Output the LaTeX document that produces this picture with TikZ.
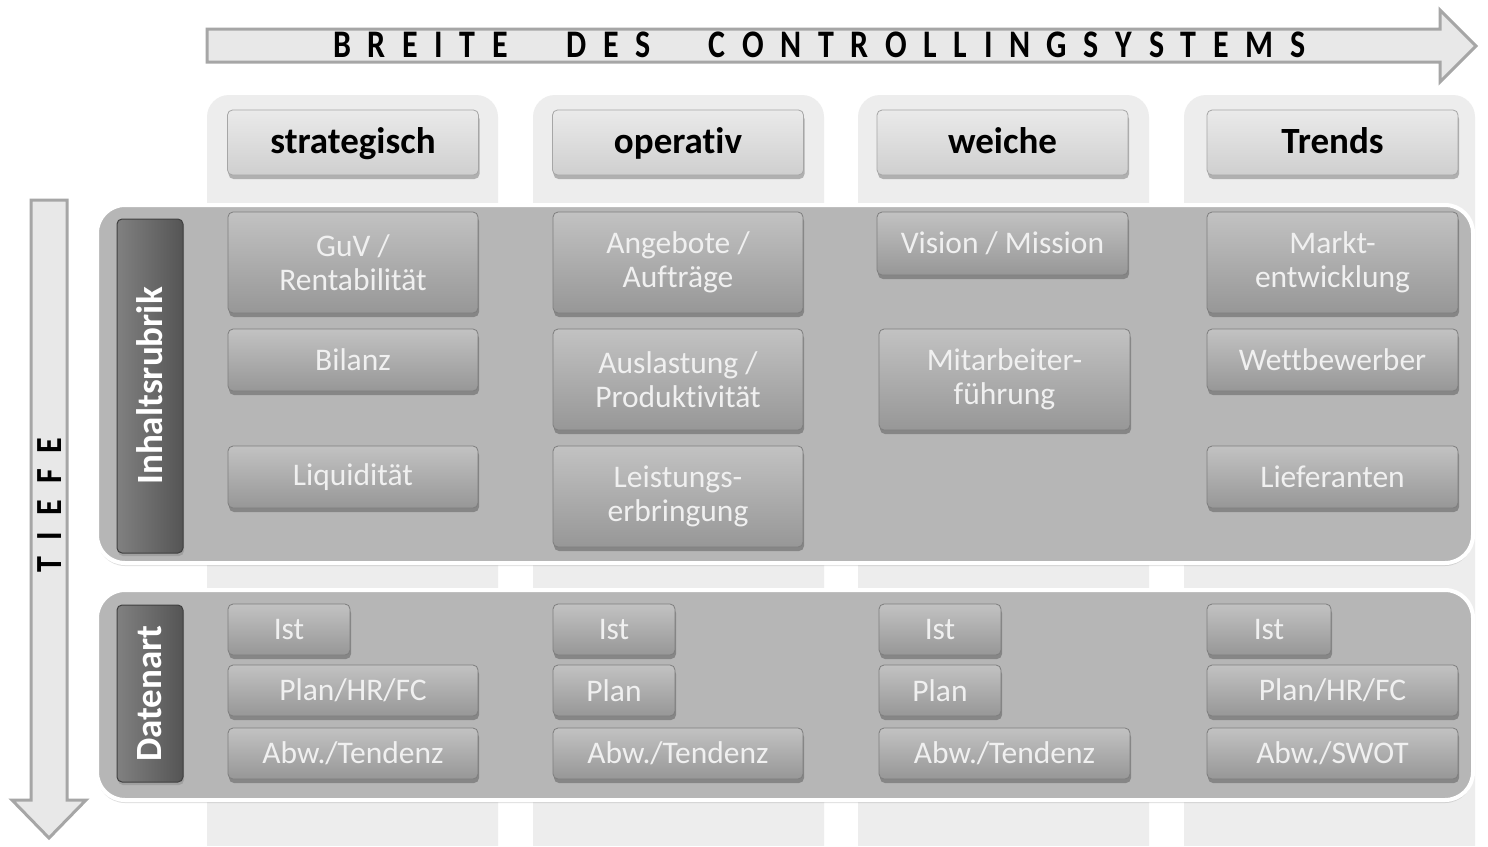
\documentclass[tikz,border=0pt]{standalone}
\usepackage{fontspec}
\setmainfont{Carlito}[Ligatures=NoCommon]
\usetikzlibrary{shadows}
\definecolor{colbg}{HTML}{EDEDED}
\definecolor{panelc}{HTML}{B6B6B6}
\definecolor{boxtop}{HTML}{C2C2C2}
\definecolor{boxbot}{HTML}{979797}
\definecolor{boxline}{HTML}{7E7E7E}
\definecolor{hdrtop}{HTML}{EAEAEA}
\definecolor{hdrbot}{HTML}{CFCFCF}
\definecolor{barc}{HTML}{6A6A6A}
\definecolor{arrfill}{HTML}{E8E8E8}
\definecolor{arrline}{HTML}{A6A6A6}
\tikzset{
  cbox/.style={rounded corners=5pt, top color=boxtop, bottom color=boxbot, draw=boxline, line width=0.8pt,
    text=white!94!black, align=center, inner sep=0pt, font=\fontsize{31.5}{34}\selectfont,
    drop shadow={shadow xshift=1pt, shadow yshift=-4pt, opacity=0.45, fill=black!70}},
  hbox/.style={rounded corners=5pt, top color=hdrtop, bottom color=hdrbot, draw=arrline, line width=0.8pt,
    text=black, align=center, inner sep=0pt, font=\fontsize{37}{40}\selectfont\bfseries,
    text height=28pt, text depth=6pt,
    minimum width=251pt, minimum height=65pt,
    drop shadow={shadow xshift=1pt, shadow yshift=-4pt, opacity=0.45, fill=black!60}},
  barbox/.style={rounded corners=5pt, left color=barc!85!white, right color=barc!80!black, draw=barc!60!black, line width=1pt,
    text=white, inner sep=0pt, minimum width=66pt, font=\fontsize{37}{40}\selectfont\bfseries,
    drop shadow={shadow xshift=1pt, shadow yshift=-3pt, opacity=0.4}},
  panel/.style={rounded corners=28pt, fill=panelc, draw=white, line width=4pt,
    drop shadow={shadow xshift=0pt, shadow yshift=-3pt, opacity=0.25}},
  colbgs/.style={fill=colbg, rounded corners=22pt},
  bigarrow/.style={fill=arrfill, draw=arrline, line width=3pt, line join=miter},
}
\begin{document}
\begin{tikzpicture}[x=1pt,y=-1pt]
\useasboundingbox (0,0) rectangle (1488,846);
\fill[white] (0,0) rectangle (1488,846);

% column backgrounds
\foreach \l/\r in {207/498, 533/824, 858/1149, 1184/1475}{
  \path[colbgs] (\l,870) -- (\l,95) -- (\r,95) -- (\r,870);
}
\fill[white] (0,846) rectangle (1488,900);

% top arrow
\draw[bigarrow] (207,29) -- (1440,29) -- (1440,10) -- (1476,46) -- (1440,82) -- (1440,62) -- (207,62) -- cycle;
\node[anchor=west, inner sep=0pt, font=\fontsize{32}{36}\selectfont\bfseries] (breite) at (333,45)
  {\scalebox{1}[1.22]{\makebox[972pt][s]{B\hfil R\hfil E\hfil I\hfil T\hfil E\hskip 0pt plus 3.5fil D\hfil E\hfil S\hskip 0pt plus 3.5fil C\hfil O\hfil N\hfil T\hfil R\hfil O\hfil L\hfil L\hfil I\hfil N\hfil G\hfil S\hfil Y\hfil S\hfil T\hfil E\hfil M\hfil S}}};

% left arrow
\draw[bigarrow] (31,200) -- (67,200) -- (67,800) -- (86,800) -- (49,838) -- (12,800) -- (31,800) -- cycle;
\node[rotate=90, inner sep=0pt, font=\fontsize{32}{36}\selectfont\bfseries] (tiefe) at (50,505)
  {\scalebox{1}[1.15]{\makebox[135pt][s]{T\hfil I\hfil E\hfil F\hfil E}}};

% headers
\node[hbox] (h1) at (353,142.5) {strategisch};
\node[hbox] (h2) at (678,142.5) {operativ};
\node[hbox] (h3) at (1002.5,142.5) {weiche};
\node[hbox] (h4) at (1332.5,142.5) {Trends};

% panels
\path[panel] (97,205) rectangle (1473,563);
\path[panel] (97,590) rectangle (1473,800);

% side bars
\node[barbox, minimum height=334pt] (inh) at (150,386) {\rotatebox{90}{Inhaltsrubrik}};
\node[barbox, minimum height=177pt] (dat) at (150,693.5) {\rotatebox{90}{Datenart}};

% Inhaltsrubrik boxes
\node[cbox, minimum width=250pt, minimum height=101pt] (guv) at (353,262.5) {GuV /\\Rentabilität};
\node[cbox, minimum width=250pt, minimum height=62pt] (bil) at (353,360) {Bilanz};
\node[cbox, minimum width=250pt, minimum height=62pt] (liq) at (353,477) {Liquidität};

\node[cbox, minimum width=250pt, minimum height=101pt] (ang) at (678,262.5) {Angebote /\\Aufträge};
\node[cbox, minimum width=250pt, minimum height=101pt] (aus) at (678,379.5) {Auslastung /\\Produktivität};
\node[cbox, minimum width=250pt, minimum height=101pt] (lei) at (678,496.5) {Leistungs-\\erbringung};

\node[cbox, minimum width=251pt, minimum height=63pt] (vis) at (1002.5,243.5) {Vision / Mission};
\node[cbox, minimum width=251pt, minimum height=101pt] (mit) at (1004.5,379.5) {Mitarbeiter-\\führung};

\node[cbox, minimum width=251pt, minimum height=101pt] (mar) at (1332.5,262.5) {Markt-\\entwicklung};
\node[cbox, minimum width=251pt, minimum height=62pt] (wet) at (1332.5,360) {Wettbewerber};
\node[cbox, minimum width=251pt, minimum height=62pt] (lie) at (1332.5,477) {Lieferanten};

% Datenart boxes
\node[cbox, minimum width=122pt, minimum height=51pt] (ist1) at (289,629.5) {Ist};
\node[cbox, minimum width=250pt, minimum height=51pt] (pl1) at (353,690.5) {Plan/HR/FC};
\node[cbox, minimum width=250pt, minimum height=51pt] (ab1) at (353,753.5) {Abw./Tendenz};

\node[cbox, minimum width=122pt, minimum height=51pt] (ist2) at (614,629.5) {Ist};
\node[cbox, minimum width=122pt, minimum height=51pt] (pl2) at (614,690.5) {Plan};
\node[cbox, minimum width=250pt, minimum height=51pt] (ab2) at (678,753.5) {Abw./Tendenz};

\node[cbox, minimum width=122pt, minimum height=51pt] (ist3) at (940,629.5) {Ist};
\node[cbox, minimum width=122pt, minimum height=51pt] (pl3) at (940,690.5) {Plan};
\node[cbox, minimum width=251pt, minimum height=51pt] (ab3) at (1004.5,753.5) {Abw./Tendenz};

\node[cbox, minimum width=124pt, minimum height=51pt] (ist4) at (1269,629.5) {Ist};
\node[cbox, minimum width=251pt, minimum height=51pt] (pl4) at (1332.5,690.5) {Plan/HR/FC};
\node[cbox, minimum width=251pt, minimum height=51pt] (ab4) at (1332.5,753.5) {Abw./SWOT};
\end{tikzpicture}
\end{document}
